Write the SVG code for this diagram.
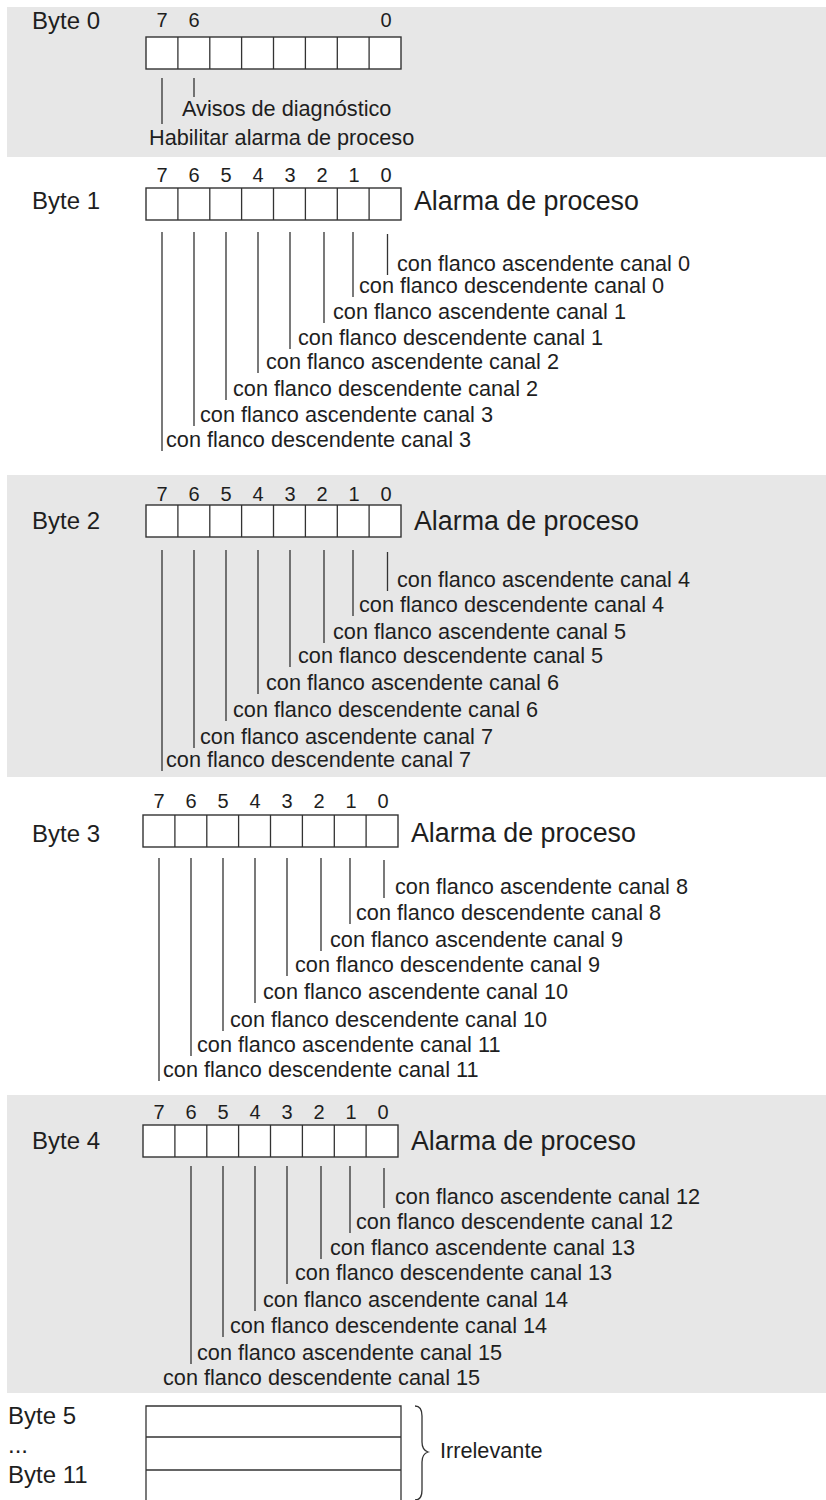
<svg xmlns="http://www.w3.org/2000/svg" width="826" height="1500" viewBox="0 0 826 1500">
<style>
.band{fill:#e7e7e7}
.box{fill:#ffffff;stroke:#333333;stroke-width:1.4}
.ln{stroke:#333333;stroke-width:1.3;fill:none}
text{font-family:"Liberation Sans",Arial,sans-serif;fill:#1e1e1e}
.byte{font-size:24px}
.bit{font-size:20px}
.lbl{font-size:21.7px}
.alarm{font-size:26.8px}
</style>
<defs>
<g id="cells">
<rect class="box" x="0" y="0" width="255" height="32"/>
<path class="ln" d="M31.9 0V32M63.8 0V32M95.6 0V32M127.5 0V32M159.4 0V32M191.3 0V32M223.1 0V32"/>
</g>
<g id="bits8">
<text class="bit" x="16" y="0" text-anchor="middle">7</text>
<text class="bit" x="48" y="0" text-anchor="middle">6</text>
<text class="bit" x="80" y="0" text-anchor="middle">5</text>
<text class="bit" x="112" y="0" text-anchor="middle">4</text>
<text class="bit" x="144" y="0" text-anchor="middle">3</text>
<text class="bit" x="176" y="0" text-anchor="middle">2</text>
<text class="bit" x="208" y="0" text-anchor="middle">1</text>
<text class="bit" x="240" y="0" text-anchor="middle">0</text>
</g>
</defs>
<rect class="band" x="7" y="7" width="819" height="150"/>
<rect class="band" x="7" y="475" width="819" height="302"/>
<rect class="band" x="7" y="1095" width="819" height="298"/>

<g id="byte0">
<text class="byte" x="32" y="29">Byte 0</text>
<text class="bit" x="162" y="27" text-anchor="middle">7</text>
<text class="bit" x="194" y="27" text-anchor="middle">6</text>
<text class="bit" x="386" y="27" text-anchor="middle">0</text>
<use href="#cells" x="146" y="37"/>
<text class="lbl" x="182" y="116">Avisos de diagnóstico</text>
<text class="lbl" x="149" y="145">Habilitar alarma de proceso</text>
</g>

<g id="byte1">
<text class="byte" x="32" y="209">Byte 1</text>
<use href="#bits8" x="146" y="182"/>
<use href="#cells" x="146" y="188"/>
<text class="alarm" x="414" y="210">Alarma de proceso</text>
<text class="lbl" x="397" y="271">con flanco ascendente canal 0</text>
<text class="lbl" x="359" y="293">con flanco descendente canal 0</text>
<text class="lbl" x="333" y="319">con flanco ascendente canal 1</text>
<text class="lbl" x="298" y="345">con flanco descendente canal 1</text>
<text class="lbl" x="266" y="369">con flanco ascendente canal 2</text>
<text class="lbl" x="233" y="396">con flanco descendente canal 2</text>
<text class="lbl" x="200" y="422">con flanco ascendente canal 3</text>
<text class="lbl" x="166" y="447">con flanco descendente canal 3</text>
</g>

<g id="byte2">
<text class="byte" x="32" y="529">Byte 2</text>
<use href="#bits8" x="146" y="501"/>
<use href="#cells" x="146" y="505"/>
<text class="alarm" x="414" y="530">Alarma de proceso</text>
<text class="lbl" x="397" y="587">con flanco ascendente canal 4</text>
<text class="lbl" x="359" y="612">con flanco descendente canal 4</text>
<text class="lbl" x="333" y="639">con flanco ascendente canal 5</text>
<text class="lbl" x="298" y="663">con flanco descendente canal 5</text>
<text class="lbl" x="266" y="690">con flanco ascendente canal 6</text>
<text class="lbl" x="233" y="717">con flanco descendente canal 6</text>
<text class="lbl" x="200" y="744">con flanco ascendente canal 7</text>
<text class="lbl" x="166" y="767">con flanco descendente canal 7</text>
</g>

<g id="byte3">
<text class="byte" x="32" y="842">Byte 3</text>
<use href="#bits8" x="143" y="808"/>
<use href="#cells" x="143" y="815"/>
<text class="alarm" x="411" y="842">Alarma de proceso</text>
<text class="lbl" x="395" y="894">con flanco ascendente canal 8</text>
<text class="lbl" x="356" y="920">con flanco descendente canal 8</text>
<text class="lbl" x="330" y="947">con flanco ascendente canal 9</text>
<text class="lbl" x="295" y="972">con flanco descendente canal 9</text>
<text class="lbl" x="263" y="999">con flanco ascendente canal 10</text>
<text class="lbl" x="230" y="1027">con flanco descendente canal 10</text>
<text class="lbl" x="197" y="1052">con flanco ascendente canal 11</text>
<text class="lbl" x="163" y="1077">con flanco descendente canal 11</text>
</g>

<g id="byte4">
<text class="byte" x="32" y="1149">Byte 4</text>
<use href="#bits8" x="143" y="1119"/>
<use href="#cells" x="143" y="1125"/>
<text class="alarm" x="411" y="1150">Alarma de proceso</text>
<text class="lbl" x="395" y="1204">con flanco ascendente canal 12</text>
<text class="lbl" x="356" y="1229">con flanco descendente canal 12</text>
<text class="lbl" x="330" y="1255">con flanco ascendente canal 13</text>
<text class="lbl" x="295" y="1280">con flanco descendente canal 13</text>
<text class="lbl" x="263" y="1307">con flanco ascendente canal 14</text>
<text class="lbl" x="230" y="1333">con flanco descendente canal 14</text>
<text class="lbl" x="197" y="1360">con flanco ascendente canal 15</text>
<text class="lbl" x="163" y="1385">con flanco descendente canal 15</text>
</g>

<g id="byte5-11">
<text class="byte" x="8" y="1424">Byte 5</text>
<text class="byte" x="8" y="1453">...</text>
<text class="byte" x="8" y="1483">Byte 11</text>
<path class="ln" d="M146 1501V1406H401V1501M146 1437H401M146 1470H401"/>
<path class="ln" d="M415 1406Q422 1406 422 1416V1442Q422 1450 428 1452Q422 1454 422 1462V1490Q422 1500 415 1500"/>
<text class="lbl" x="440" y="1458">Irrelevante</text>
</g>

<g id="connectors">
<path class="ln" d="M162 78V124M194 78V97"/>
<path class="ln" d="M387.5 234V275M353 232V297M324 232V323M290 232V349M258 232V373M226 232V400M194 232V426M162 232V451"/>
<path class="ln" d="M387.5 552V591M353 550V616M324 550V643M290 550V667M258 550V694M226 550V721M194 550V748M162 550V771"/>
<path class="ln" d="M384 860V898M350 858V924M321 858V951M287 858V976M255 858V1003M223 858V1031M191 858V1056M159 858V1081"/>
<path class="ln" d="M384 1168V1208M350 1166V1233M321 1166V1259M287 1166V1284M255 1166V1311M223 1166V1337M191 1166V1364"/>
</g>
</svg>
